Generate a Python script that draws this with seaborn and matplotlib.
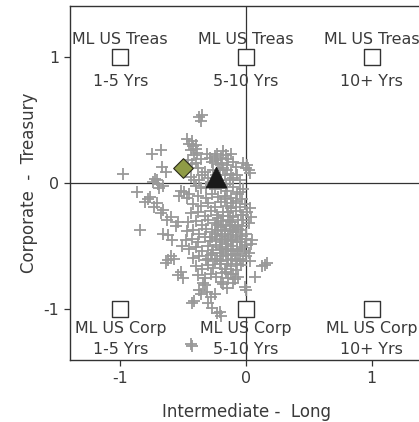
import matplotlib
matplotlib.use("Agg")
import matplotlib.pyplot as plt
import seaborn as sns
import pandas as pd

# ---- data -------------------------------------------------------------
cloud_x = [
    -0.37, -0.36, -0.35,
    -0.47, -0.45, -0.43, -0.42, -0.40, -0.44, -0.41, -0.46, -0.43,
    -0.75, -0.68, -0.67, -0.64, -0.98,
    -0.74, -0.72, -0.70, -0.71, -0.69, -0.66,
    -0.87, -0.78, -0.80, -0.76, -0.71, -0.73, -0.66, -0.68, -0.63, -0.60, -0.54, -0.56,
    -0.84, -0.66, -0.59, -0.62, -0.51, -0.60, -0.62, -0.64, -0.57, -0.54, -0.52, -0.50,
    -0.43, -0.41, -0.30, -0.27, -0.21, -0.20, -0.23, -0.44, -0.43,
    0.17, 0.15, 0.13, 0.07, -0.01, 0.00, -0.10, -0.34, -0.33, -0.37, -0.36, -0.31,
    -0.28, -0.25, -0.15, -0.18,
    0.01, 0.02, 0.00, -0.02, 0.03,
    -0.10, -0.08, -0.23, -0.18, -0.16, -0.20, -0.14, -0.12, -0.31, -0.29, -0.27, -0.25,
    -0.22, -0.18, -0.15, -0.12, -0.10, -0.07, -0.05, -0.44, -0.41, -0.37, -0.35, -0.33,
    -0.30, -0.28, -0.32, -0.36, -0.40, -0.52, -0.49, -0.53, -0.47, -0.45,
    -0.38, -0.40, -0.36,
    -0.25, -0.20, -0.15, -0.10, -0.05, -0.02,
    -0.38, -0.32, -0.27, -0.22, -0.17, -0.12, -0.07, -0.03,
    -0.42, -0.36, -0.30, -0.25, -0.20, -0.15, -0.10, -0.05, -0.01, 0.03,
    -0.44, -0.38, -0.33, -0.28, -0.23, -0.18, -0.13, -0.08, -0.04, 0.01, 0.04,
    -0.46, -0.40, -0.35, -0.30, -0.25, -0.20, -0.16, -0.11, -0.06, -0.02, 0.02,
    -0.47, -0.42, -0.37, -0.32, -0.27, -0.22, -0.17, -0.13, -0.08, -0.04, 0.00,
    -0.48, -0.43, -0.38, -0.33, -0.29, -0.24, -0.19, -0.14, -0.10, -0.05, 0.05, 0.04,
    -0.45, -0.40, -0.35, -0.30, -0.26, -0.21, -0.16, -0.12, -0.07, -0.03, 0.02,
    -0.42, -0.37, -0.32, -0.28, -0.23, -0.18, -0.14, -0.09, -0.05, 0.00, 0.03,
    -0.40, -0.35, -0.30, -0.26, -0.21, -0.17, -0.12, -0.08, -0.04,
    -0.38, -0.33, -0.28, -0.24, -0.19, -0.14, -0.10, -0.06,
    -0.22, -0.18, -0.14, -0.09, -0.19, -0.15, -0.11, -0.07, -0.21, -0.16,
    -0.12, -0.08, -0.24, -0.27, -0.12, -0.17, -0.08, -0.03, -0.01, -0.06,
    -0.20, -0.17, -0.13, -0.10, -0.06, -0.03,
    -0.21, -0.17, -0.12, -0.08, -0.04, 0.00,
    -0.19, -0.14, -0.10, -0.05, -0.01,
    -0.20, -0.15, -0.11, -0.07, -0.02,
    -0.25, -0.23, -0.27, -0.25, -0.30,
    -0.18, -0.14, -0.10, -0.06, -0.02,
    -0.16, -0.12, -0.09, -0.20,
    -0.24, -0.19, -0.15, -0.21, -0.17, -0.13, -0.26, -0.24, -0.20, -0.16,
    -0.40, -0.39,
]
cloud_y = [
    0.52, 0.49, 0.54,
    0.35, 0.31, 0.33, 0.29, 0.27, 0.26, 0.22, 0.18, 0.15,
    0.23, 0.26, 0.13, 0.09, 0.07,
    0.01, 0.03, -0.01, 0.02, -0.04, -0.02,
    -0.07, -0.13, -0.15, -0.11, -0.16, -0.19, -0.21, -0.24, -0.29, -0.27, -0.31, -0.34,
    -0.37, -0.40, -0.45, -0.41, -0.50, -0.58, -0.61, -0.63, -0.60, -0.73, -0.70, -0.75,
    -0.95, -0.93, -0.95, -0.99, -1.02, -1.05, -1.03, -1.27, -1.29,
    -0.63, -0.65, -0.66, -0.74, -0.82, -0.85, -0.79, -0.79, -0.81, -0.85, -0.88, -0.86,
    -0.90, -0.88, -0.83, -0.80,
    0.14, 0.10, 0.12, 0.16, 0.08,
    0.17, 0.13, 0.23, 0.25, 0.22, 0.20, 0.19, 0.23, 0.23, 0.20, 0.17, 0.21,
    0.15, 0.12, 0.10, 0.07, 0.04, 0.06, 0.02, 0.05, 0.02, 0.02, 0.06, 0.09,
    0.04, 0.00, -0.03, -0.04, -0.02, -0.06, -0.07, -0.10, -0.12, -0.09,
    0.12, 0.16, 0.19,
    -0.05, -0.04, -0.06, -0.03, -0.07, -0.05,
    -0.10, -0.12, -0.09, -0.11, -0.10, -0.12, -0.09, -0.13,
    -0.17, -0.18, -0.16, -0.19, -0.15, -0.18, -0.16, -0.19, -0.17, -0.20,
    -0.24, -0.23, -0.26, -0.22, -0.25, -0.23, -0.26, -0.22, -0.25, -0.23, -0.27,
    -0.31, -0.30, -0.33, -0.29, -0.32, -0.30, -0.34, -0.31, -0.33, -0.29, -0.32,
    -0.38, -0.37, -0.40, -0.36, -0.39, -0.37, -0.40, -0.36, -0.39, -0.37, -0.40,
    -0.45, -0.44, -0.47, -0.43, -0.46, -0.44, -0.47, -0.43, -0.46, -0.44, -0.45, -0.48,
    -0.52, -0.51, -0.54, -0.50, -0.53, -0.51, -0.54, -0.50, -0.53, -0.51, -0.55,
    -0.59, -0.58, -0.61, -0.57, -0.60, -0.58, -0.61, -0.57, -0.60, -0.58, -0.62,
    -0.66, -0.68, -0.65, -0.67, -0.64, -0.68, -0.66, -0.69, -0.65,
    -0.73, -0.75, -0.72, -0.74, -0.71, -0.75, -0.72, -0.74,
    -0.28, -0.33, -0.29, -0.35, -0.42, -0.48, -0.41, -0.47, -0.55, -0.57,
    -0.56, -0.62, -0.49, -0.43, -0.20, -0.13, -0.14, -0.42, -0.49, -0.56,
    -0.35, -0.38, -0.33, -0.38, -0.36, -0.34,
    -0.45, -0.44, -0.45, -0.43, -0.47, -0.44,
    -0.52, -0.52, -0.54, -0.52, -0.54,
    -0.62, -0.64, -0.60, -0.64, -0.62,
    -0.40, -0.33, -0.55, -0.62, -0.60,
    -0.26, -0.23, -0.27, -0.29, -0.25,
    -0.70, -0.72, -0.76, -0.78,
    0.18, 0.16, 0.14, 0.10, 0.06, 0.02, 0.10, 0.06, 0.02, -0.01,
    0.30, 0.24,
]

bench_x = [-1, 0, 1, -1, 0, 1]
bench_y = [1, 1, 1, -1, -1, -1]
bench_top = ["ML US Treas", "ML US Treas", "ML US Treas", "ML US Corp", "ML US Corp", "ML US Corp"]
bench_bottom = ["1-5 Yrs", "5-10 Yrs", "10+ Yrs", "1-5 Yrs", "5-10 Yrs", "10+ Yrs"]

diamond_x, diamond_y = [-0.50], [0.12]
triangle_x, triangle_y = [-0.24], [0.05]

xticks = [-1, 0, 1]
yticks = [-1, 0, 1]

# ---- plot -------------------------------------------------------------
sns.set_style("white")
plt.rcParams["font.family"] = ["DejaVu Sans"]
text_color = "#3a3a3a"

fig = plt.figure(figsize=(4.19, 4.22), dpi=100)
ax = fig.add_axes([70 / 419, 62 / 422, 352 / 419, 354 / 422])
ax.set_xlim(-1.40, 1.40)
ax.set_ylim(-1.40, 1.40)

ax.axhline(0, color="#333333", lw=0.9, zorder=1)
ax.axvline(0, color="#333333", lw=0.9, zorder=1)

cloud = pd.DataFrame({"x": cloud_x, "y": cloud_y})
sns.scatterplot(data=cloud, x="x", y="y", marker="+", s=85, color="#999999",
                linewidth=1.3, ax=ax, zorder=2)

bench = pd.DataFrame({"x": bench_x, "y": bench_y})
sns.scatterplot(data=bench, x="x", y="y", marker="s", s=130, facecolor="white",
                edgecolor="#333333", linewidth=1.0, ax=ax, zorder=3)

fs = 11.4
for bx, by, t1, t2 in zip(bench_x, bench_y, bench_top, bench_bottom):
    if by > 0:
        ax.text(bx, by + 0.135, t1, ha="center", va="center", fontsize=fs, color=text_color, zorder=4)
        ax.text(bx, by - 0.20, t2, ha="center", va="center", fontsize=fs, color=text_color, zorder=4)
    else:
        ax.text(bx, by - 0.15, t1, ha="center", va="center", fontsize=fs, color=text_color, zorder=4)
        ax.text(bx, by - 0.32, t2, ha="center", va="center", fontsize=fs, color=text_color, zorder=4)

sns.scatterplot(x=diamond_x, y=diamond_y, marker="D", s=100, color="#8f9b45",
                edgecolor="#2a2a1a", linewidth=0.8, ax=ax, zorder=5)
sns.scatterplot(x=triangle_x, y=triangle_y, marker="^", s=230, color="#1a1a1a",
                edgecolor="#1a1a1a", linewidth=0.5, ax=ax, zorder=5)

ax.set_xticks(xticks)
ax.set_yticks(yticks)
ax.set_xticklabels([str(v) for v in xticks])
ax.set_yticklabels([str(v) for v in yticks])
ax.tick_params(axis="both", direction="out", length=4, width=0.9, color="#333333",
               labelsize=11.4, labelcolor=text_color, pad=4, bottom=True, left=True)
for side in ["left", "bottom", "top"]:
    ax.spines[side].set_color("#333333")
    ax.spines[side].set_linewidth(1.0)
ax.spines["right"].set_visible(False)

ax.set_xlabel("Intermediate -  Long", fontsize=12, color=text_color, labelpad=12)
ax.set_ylabel("Corporate  -  Treasury", fontsize=12, color=text_color, labelpad=4)

fig.savefig("out.png", dpi=100)
